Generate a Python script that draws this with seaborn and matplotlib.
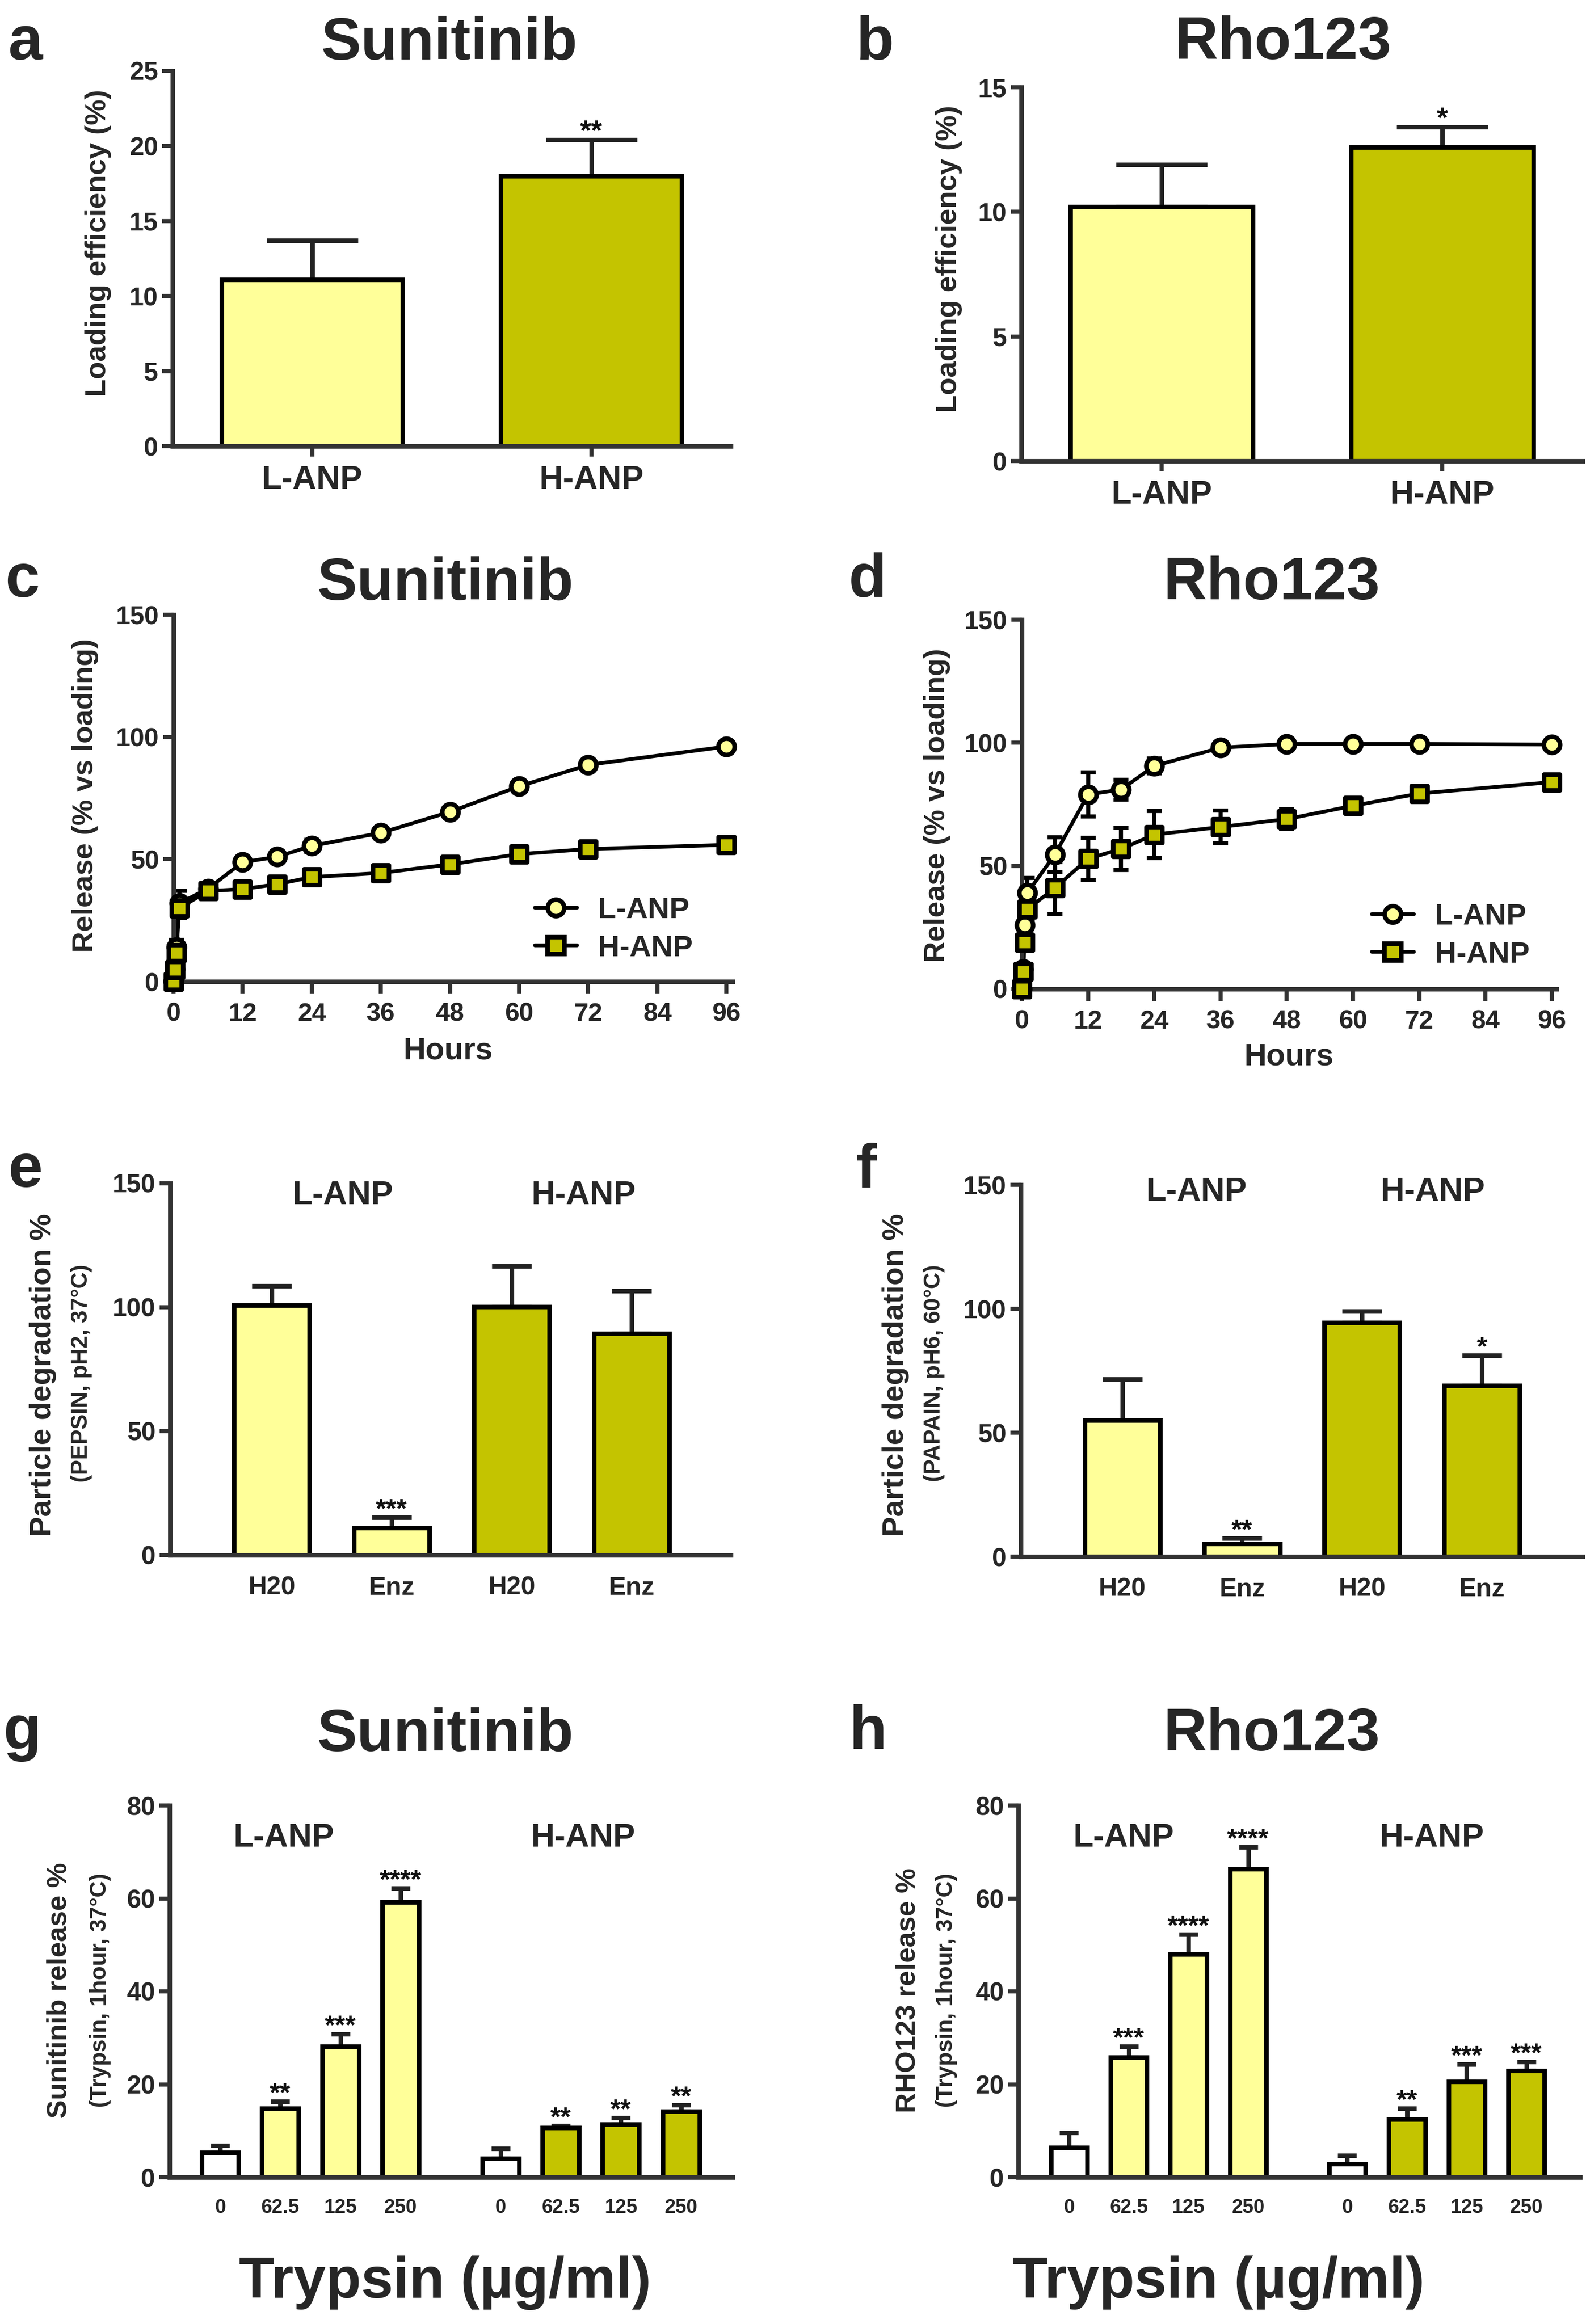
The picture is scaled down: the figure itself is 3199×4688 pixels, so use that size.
import numpy as np
import pandas as pd
import matplotlib
matplotlib.use("Agg")
import matplotlib.pyplot as plt
import seaborn as sns
from matplotlib.lines import Line2D

# ---------------- data ----------------
LIGHT = "#FFFF99"
OLIVE = "#C4C400"

load_groups = ["L-ANP", "H-ANP"]
load_sun = [11.1, 18.0]
load_sun_err = [2.6, 2.4]
load_sun_sig = ["", "**"]
load_rho = [10.2, 12.6]
load_rho_err = [1.7, 0.8]
load_rho_sig = ["", "*"]

hours = [0, 0.25, 0.5, 1, 6, 12, 18, 24, 36, 48, 60, 72, 96]
rel_sun_L = [0, 5, 14, 32, 38, 48.8, 51.0, 55.5, 60.8, 69.4, 79.8, 88.6, 96.1]
rel_sun_L_err = [0, 1.5, 3, 5, 2, 2, 1.5, 2.5, 1.5, 1.5, 1.5, 1.5, 1.5]
rel_sun_H = [0, 4.8, 11.7, 30.0, 37.0, 37.8, 39.8, 42.7, 44.4, 47.9, 52.1, 54.2, 55.9]
rel_sun_H_err = [0, 2, 3, 4, 3, 2, 2, 2.5, 1.5, 1.5, 2, 2, 1.5]
rel_rho_L = [0, 8, 26, 39, 54.6, 79.0, 81.0, 90.6, 98.0, 99.5, 99.5, 99.5, 99.3]
rel_rho_L_err = [0, 2, 4, 6, 7, 9, 4, 3, 1.5, 1, 1, 1, 1]
rel_rho_H = [0, 7, 19, 32.4, 41.0, 52.9, 56.9, 62.7, 65.8, 69.0, 74.4, 79.4, 84.0]
rel_rho_H_err = [0, 2, 3, 4, 10.5, 8.6, 8.6, 9.5, 6.6, 4, 3, 3, 2]

deg_labels = ["H20", "Enz", "H20", "Enz"]
deg_groups = ["L-ANP", "L-ANP", "H-ANP", "H-ANP"]
deg_pepsin = [100.9, 11.0, 100.3, 89.4]
deg_pepsin_err = [7.8, 4.3, 16.3, 17.3]
deg_pepsin_sig = ["", "***", "", ""]
deg_papain = [55.0, 5.3, 94.5, 69.0]
deg_papain_err = [16.7, 2.1, 4.6, 12.2]
deg_papain_sig = ["", "**", "", "*"]

trypsin_doses = ["0", "62.5", "125", "250"]
tryp_sun_L = [5.3, 14.8, 28.2, 59.2]
tryp_sun_L_err = [1.5, 1.5, 2.6, 3.0]
tryp_sun_L_sig = ["", "**", "***", "****"]
tryp_sun_H = [4.1, 10.7, 11.4, 14.2]
tryp_sun_H_err = [2.1, 0.4, 1.4, 1.4]
tryp_sun_H_sig = ["", "**", "**", "**"]
tryp_rho_L = [6.4, 25.8, 48.0, 66.4]
tryp_rho_L_err = [3.2, 2.4, 4.3, 4.6]
tryp_rho_L_sig = ["", "***", "****", "****"]
tryp_rho_H = [2.9, 12.5, 20.6, 22.9]
tryp_rho_H_err = [1.8, 2.3, 3.7, 2.0]
tryp_rho_H_sig = ["", "**", "***", "***"]

# ---------------- style ----------------
sns.set_theme(style="ticks")
plt.rcParams["font.family"] = ["Liberation Sans", "DejaVu Sans"]
plt.rcParams["font.weight"] = "bold"
plt.rcParams["axes.labelweight"] = "bold"

W, H, DPI = 3199, 4688, 300
fig = plt.figure(figsize=(W / DPI, H / DPI), dpi=DPI)
fig.patch.set_facecolor("white")
SPINE = "#333333"
PAL = {"zero": "white", "L": LIGHT, "H": OLIVE}


def add_ax(l, t, r, b):
    ax = fig.add_axes([l / W, 1 - b / H, (r - l) / W, (b - t) / H])
    ax.set_facecolor("white")
    return ax


def fx(px):
    return px / W


def fy(py):
    return 1 - py / H


def style(ax, xtick_len=5):
    sns.despine(ax=ax)
    for s in ("left", "bottom"):
        ax.spines[s].set_linewidth(2.2)
        ax.spines[s].set_color(SPINE)
    ax.tick_params(axis="y", width=2, length=5, color=SPINE, labelsize=12.5, pad=2)
    ax.tick_params(axis="x", width=2, length=xtick_len, color=SPINE, pad=4)
    ax.set_xlabel("")
    ax.set_ylabel("")


def bars(ax, pos, vals, errs, keys, width, capsize, sigs, sig_size):
    df = pd.DataFrame({"pos": pos, "val": vals, "key": keys})
    sns.barplot(data=df, x="pos", y="val", hue="key", palette=PAL, native_scale=True,
                width=width, edgecolor="black", linewidth=2.2, errorbar=None,
                saturation=1, legend=False, ax=ax, zorder=2)
    ax.errorbar(pos, vals, yerr=[np.zeros(len(vals)), errs], fmt="none", ecolor="#222222",
                elinewidth=2.2, capsize=capsize, capthick=2.2, zorder=1.5)
    for p, v, e, s in zip(pos, vals, errs, sigs):
        if s:
            ax.text(p, v + e, s, ha="center", va="baseline", fontsize=sig_size,
                    fontweight="bold", color="#111111")


def ylab(text, x, y, size):
    fig.text(fx(x), fy(y), text, rotation=90, ha="center", va="center",
             fontsize=size, fontweight="bold")


def title(text, x, y):
    fig.text(fx(x), fy(y), text, ha="center", va="center", fontsize=29, fontweight="bold")


def letter(text, x, y):
    fig.text(fx(x), fy(y), text, ha="center", va="center", fontsize=30, fontweight="bold")


# ---------------- a / b : loading ----------------
for (l, t, r, b), vals, errs, sigs, ymax, step, tx, lx, ly, let in [
    ((348, 143, 1474, 900), load_sun, load_sun_err, load_sun_sig, 25, 5, 906, 198, 490, ("a", 51)),
    ((2060, 176, 3192, 930), load_rho, load_rho_err, load_rho_sig, 15, 5, 2588, 1914, 522, ("b", 1765)),
]:
    ax = add_ax(l, t, r, b)
    pos = list(range(len(load_groups)))
    bars(ax, pos, vals, errs, ["L", "H"], 0.65, 22, sigs, 14)
    ax.set_xlim(-0.5, 1.5)
    ax.set_ylim(0, ymax)
    ax.set_yticks(np.arange(0, ymax + 1, step))
    ax.set_xticks(pos)
    ax.set_xticklabels(load_groups, fontsize=16)
    style(ax)
    title("Sunitinib" if let[0] == "a" else "Rho123", tx, 88)
    letter(let[0], let[1], 88)
    ylab("Loading efficiency (%)", lx, ly, 14)


# ---------------- c / d : release ----------------
def release(ax, L, Le, Hh, He):
    sns.lineplot(x=hours, y=L, color="black", linewidth=1.8, ax=ax, zorder=2)
    sns.lineplot(x=hours, y=Hh, color="black", linewidth=1.8, ax=ax, zorder=2)
    ax.errorbar(hours, L, yerr=Le, fmt="none", ecolor="black", elinewidth=2,
                capsize=3.6, capthick=2, zorder=2.5, clip_on=False)
    ax.errorbar(hours, Hh, yerr=He, fmt="none", ecolor="black", elinewidth=2,
                capsize=3.6, capthick=2, zorder=2.5, clip_on=False)
    sns.scatterplot(x=hours, y=L, marker="o", s=62, color=LIGHT, edgecolor="black",
                    linewidth=2.2, ax=ax, zorder=3, clip_on=False)
    sns.scatterplot(x=hours, y=Hh, marker="s", s=62, color=OLIVE, edgecolor="black",
                    linewidth=2.2, ax=ax, zorder=4, clip_on=False)


leg_handles = [
    Line2D([0], [0], color="black", lw=1.8, marker="o", markersize=8,
           markerfacecolor=LIGHT, markeredgecolor="black", markeredgewidth=2.2),
    Line2D([0], [0], color="black", lw=1.8, marker="s", markersize=8,
           markerfacecolor=OLIVE, markeredgecolor="black", markeredgewidth=2.2),
]

for (l, t, r, b), xmax, L, Le, Hh, He, tname, tx, let, lx, ly, legx, legy, hx, hy in [
    ((350, 1240, 1478, 1980), 97.1, rel_sun_L, rel_sun_L_err, rel_sun_H, rel_sun_H_err,
     "Sunitinib", 898, ("c", 45), 172, 1605, 1079, 1875, 904, 2120),
    ((2061, 1250, 3140, 1995), 96.9, rel_rho_L, rel_rho_L_err, rel_rho_H, rel_rho_H_err,
     "Rho123", 2565, ("d", 1750), 1890, 1625, 2767, 1888, 2600, 2132),
]:
    ax = add_ax(l, t, r, b)
    release(ax, L, Le, Hh, He)
    ax.set_xlim(0, xmax)
    ax.set_ylim(0, 150)
    ax.set_yticks([0, 50, 100, 150])
    ax.set_xticks(np.arange(0, 97, 12))
    ax.tick_params(axis="x", labelsize=12.5)
    style(ax, xtick_len=6)
    ax.legend(leg_handles, ["L-ANP", "H-ANP"], loc="center left",
              bbox_to_anchor=(fx(legx), fy(legy)), bbox_transform=fig.transFigure,
              frameon=False, fontsize=14.5, handlelength=1.4, handletextpad=0.7,
              labelspacing=0.35, borderpad=0, borderaxespad=0)
    title(tname, tx, 1178)
    letter(let[0], let[1], 1172)
    ylab("Release (% vs loading)", lx, ly, 14)
    fig.text(fx(hx), fy(hy), "Hours", ha="center", va="center", fontsize=15, fontweight="bold")

# ---------------- e / f : degradation ----------------
for (l, t, r, b), xmax, vals, errs, sigs, sub, let, mx, sx, gL, gH, gy in [
    ((343, 2387, 1474, 3137), 3.826, deg_pepsin, deg_pepsin_err, deg_pepsin_sig,
     "(PEPSIN, pH2, 37°C)", ("e", 51), 87, 164, 0.59, 2.6, 145),
    ((2059, 2390, 3192, 3140), 3.84, deg_papain, deg_papain_err, deg_papain_sig,
     "(PAPAIN, pH6, 60°C)", ("f", 1748), 1807, 1884, 0.62, 2.59, 147),
]:
    ax = add_ax(l, t, r, b)
    pos = list(range(len(deg_labels)))
    keys = ["L" if g == "L-ANP" else "H" for g in deg_groups]
    bars(ax, pos, vals, errs, keys, 0.63, 9.5, sigs, 13)
    ax.set_xlim(-0.847, xmax)
    ax.set_ylim(0, 150)
    ax.set_yticks([0, 50, 100, 150])
    ax.set_xticks(pos)
    ax.set_xticklabels(deg_labels, fontsize=12.5)
    style(ax, xtick_len=0)
    ax.tick_params(axis="x", pad=10)
    ax.text(gL, gy, "L-ANP", ha="center", va="center", fontsize=16, fontweight="bold")
    ax.text(gH, gy, "H-ANP", ha="center", va="center", fontsize=16, fontweight="bold")
    letter(let[0], let[1], 2362)
    ylab("Particle degradation %", mx, 2773, 14.5)
    ylab(sub, sx, 2770, 11)

# ---------------- g / h : trypsin ----------------
for (l, t, r, b), xmin, xmax, Lv, Le, Ls, Hv, He, Hs, tname, tx, let, main, mx, sx, gL, gH, xlx in [
    ((342, 3642, 1478, 4392), -0.84, 8.52, tryp_sun_L, tryp_sun_L_err, tryp_sun_L_sig,
     tryp_sun_H, tryp_sun_H_err, tryp_sun_H_sig, "Sunitinib", 898, ("g", 45),
     "Sunitinib release %", 119, 202, 1.06, 6.03, 898),
    ((2054, 3642, 3187, 4392), -0.85, 8.56, tryp_rho_L, tryp_rho_L_err, tryp_rho_L_sig,
     tryp_rho_H, tryp_rho_H_err, tryp_rho_H_sig, "Rho123", 2565, ("h", 1750),
     "RHO123 release %", 1832, 1909, 0.91, 6.08, 2458),
]:
    ax = add_ax(l, t, r, b)
    n = len(trypsin_doses)
    pos = list(np.arange(n)) + list(np.arange(n) + n + 0.66)
    vals = Lv + Hv
    errs = Le + He
    sigs = Ls + Hs
    keys = ["zero" if d == "0" else "L" for d in trypsin_doses] + \
           ["zero" if d == "0" else "H" for d in trypsin_doses]
    bars(ax, pos, vals, errs, keys, 0.61, 4.6, sigs, 13)
    ax.set_xlim(xmin, xmax)
    ax.set_ylim(0, 80)
    ax.set_yticks([0, 20, 40, 60, 80])
    ax.set_xticks(pos)
    ax.set_xticklabels(trypsin_doses * 2, fontsize=9.5)
    style(ax, xtick_len=0)
    ax.tick_params(axis="x", pad=10)
    ax.text(gL, 73, "L-ANP", ha="center", va="center", fontsize=16, fontweight="bold")
    ax.text(gH, 73, "H-ANP", ha="center", va="center", fontsize=16, fontweight="bold")
    title(tname, tx, 3500)
    letter(let[0], let[1], 3496)
    ylab(main, mx, 4015, 13.5)
    ylab("(Trypsin, 1hour, 37°C)", sx, 4015, 11)
    fig.text(fx(xlx), fy(4605), "Trypsin (µg/ml)", ha="center", va="center",
             fontsize=28, fontweight="bold")

fig.savefig("out.png", dpi=DPI, facecolor="white")
